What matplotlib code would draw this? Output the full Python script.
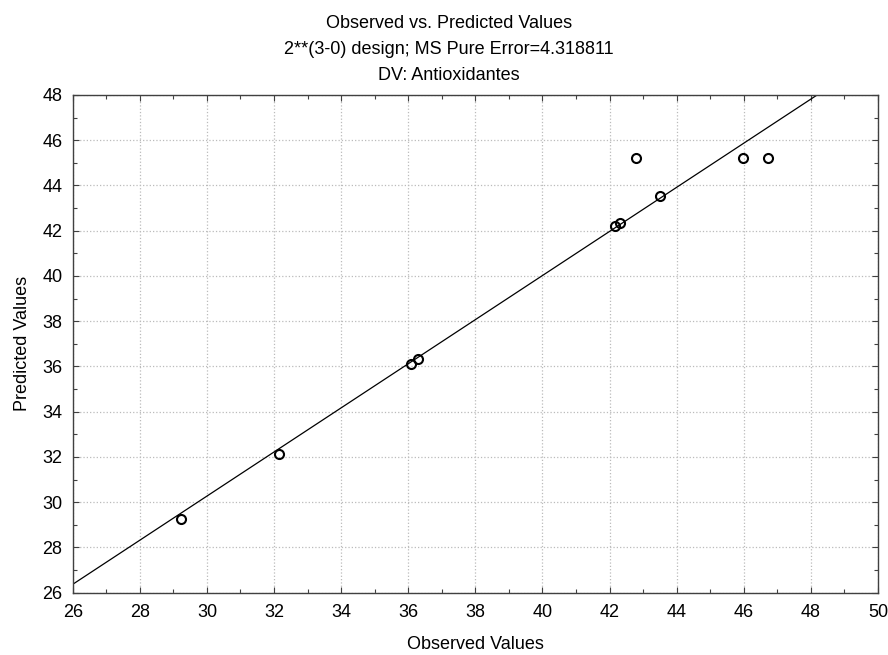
import matplotlib
matplotlib.use("Agg")
import matplotlib.pyplot as plt
from matplotlib.ticker import MultipleLocator
import numpy as np

plt.rcParams['font.family'] = ['Liberation Sans', 'DejaVu Sans']

observed = [29.22, 32.16, 36.07, 36.30, 42.17, 42.31, 43.49, 42.79, 45.98, 46.71]
predicted = [29.24, 32.14, 36.09, 36.31, 42.20, 42.35, 43.55, 45.22, 45.22, 45.22]
fit_intercept = 1.02
fit_slope = 0.975

title_lines = ["Observed vs. Predicted Values",
               "2**(3-0) design; MS Pure Error=4.318811",
               "DV: Antioxidantes"]

fig = plt.figure(figsize=(8.88, 6.55), dpi=100)
ax = fig.add_axes([72.7/888, 1 - 592.7/655, (878 - 72.7)/888, (592.7 - 95)/655])

xl = np.array([26, 50])
ax.plot(xl, fit_intercept + fit_slope * xl, color='black', lw=0.9, zorder=2)
ax.plot(observed, predicted, linestyle='none', marker='o', ms=6.5, mfc='none',
        mec='black', mew=1.5, zorder=3)

ax.set_xlim(26, 50)
ax.set_ylim(26, 48)
ax.xaxis.set_major_locator(MultipleLocator(2))
ax.xaxis.set_minor_locator(MultipleLocator(1))
ax.yaxis.set_major_locator(MultipleLocator(2))
ax.yaxis.set_minor_locator(MultipleLocator(1))
ax.tick_params(which='both', direction='in', top=True, right=True, labelsize=13,
               colors='#404040', labelcolor='black')
ax.tick_params(which='major', length=4, width=0.8)
ax.tick_params(which='minor', length=3, width=0.8)
ax.tick_params(axis='x', which='major', pad=8)
ax.tick_params(axis='y', which='major', pad=7.5)
for s in ax.spines.values():
    s.set_color('#404040')
    s.set_linewidth(1.0)
ax.grid(True, which='major', linestyle=':', color='#bbbbbb', lw=0.9)
ax.set_axisbelow(True)

ax.set_xlabel("Observed Values", fontsize=13, labelpad=11)
ax.set_ylabel("Predicted Values", fontsize=13, labelpad=8)

for i, t in enumerate(title_lines):
    fig.text(449 / 888, 1 - (28 + 26 * i) / 655, t, ha='center', va='baseline', fontsize=13)

fig.savefig("out.png", dpi=100)
